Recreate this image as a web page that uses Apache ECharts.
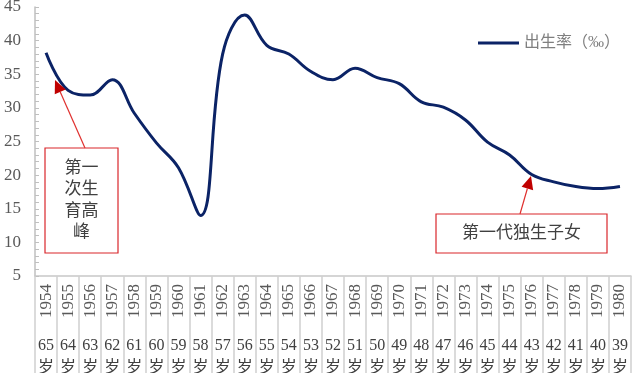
<!DOCTYPE html>
<html>
<head>
<meta charset="utf-8">
<script src="https://cdn.jsdelivr.net/npm/echarts@6/dist/echarts.min.js"></script>
<style>
html,body{margin:0;padding:0;background:#fff;}
#c{width:640px;height:373px;}
</style>
</head>
<body>
<div id="c"></div>
<script>
var years = ['1954','1955','1956','1957','1958','1959','1960','1961','1962','1963','1964','1965','1966','1967','1968','1969','1970','1971','1972','1973','1974','1975','1976','1977','1978','1979','1980'];
var ages = ['65','64','63','62','61','60','59','58','57','56','55','54','53','52','51','50','49','48','47','46','45','44','43','42','41','40','39'];
var birthRate = [38.2,32.6,31.9,34.2,29.2,24.8,21.1,14.0,38.0,43.8,39.3,38.0,35.4,34.2,35.9,34.5,33.6,30.9,30.1,28.2,24.9,23.0,20.1,19.0,18.3,18.0,18.3];
var seriesName = '出生率（‰）';
var note1 = '第一\n次生\n育高\n峰';
var note2 = '第一代独生子女';

var FONT = "'Liberation Serif','Noto Sans CJK SC',serif";
var chart = echarts.init(document.getElementById('c'));

function arrow(x1,y1,x2,y2,color){
  var dx=x2-x1, dy=y2-y1, L=Math.sqrt(dx*dx+dy*dy), ux=dx/L, uy=dy/L;
  var hl=13, hw=6;
  var bx=x2-ux*hl, by=y2-uy*hl;
  var px=-uy, py=ux;
  return [
    {type:'line', shape:{x1:x1,y1:y1,x2:bx,y2:by}, style:{stroke:color,lineWidth:1.2}, z:10},
    {type:'polygon', shape:{points:[[x2,y2],[bx+px*hw,by+py*hw],[bx-px*hw,by-py*hw]]}, style:{fill:'#c00000'}, z:10}
  ];
}

var graphics = [
  {type:'rect', shape:{x:45,y:148,width:73,height:105}, style:{fill:'#fff',stroke:'#d9262b',lineWidth:1.2}, z:9},
  {type:'text', x:81.5, y:200.5, style:{text:note1, font:"17px "+FONT, fill:'#404040', align:'center', verticalAlign:'middle', lineHeight:21.5}, z:11},
  {type:'rect', shape:{x:436,y:214,width:171,height:39}, style:{fill:'#fff',stroke:'#d9262b',lineWidth:1.2}, z:9},
  {type:'text', x:521.5, y:234, style:{text:note2, font:"17px "+FONT, fill:'#404040', align:'center', verticalAlign:'middle'}, z:11}
].concat(arrow(85,148,55,80,'#e0302e')).concat(arrow(520,214,531,176,'#e0302e'));

chart.setOption({
  animation:false,
  backgroundColor:'#fff',
  grid:{left:35,right:9,top:7,bottom:97,containLabel:false,outerBoundsMode:'none'},
  legend:{
    left:473, top:30,
    icon:'rect', itemWidth:41, itemHeight:3,
    textStyle:{fontFamily:FONT,fontSize:16,color:'#7f7f7f'},
    data:[seriesName]
  },
  xAxis:[{
    type:'category', data:years, boundaryGap:true,
    axisLine:{lineStyle:{color:'#c8c8c8',width:1.5}},
    axisTick:{show:true,interval:0,length:100,lineStyle:{color:'#d0d0d0',width:1.5}},
    axisLabel:{interval:0,rotate:90,margin:8,fontFamily:FONT,fontSize:17,color:'#595959'}
  },{
    type:'category', data:years, boundaryGap:true, position:'bottom',
    axisLine:{show:false}, axisTick:{show:false},
    axisLabel:{interval:0,margin:59,fontFamily:FONT,fontSize:16,color:'#404040',lineHeight:22,
      formatter:function(v,i){return ages[i]+'\n岁';}}
  }],
  yAxis:{
    type:'value', min:5, max:45, interval:5,
    axisLine:{show:true,lineStyle:{color:'#bfbfbf',width:1.5}},
    axisTick:{show:true,inside:true,length:4,lineStyle:{color:'#bfbfbf'}},
    minorTick:{show:true,splitNumber:5,length:4,lineStyle:{color:'#bfbfbf'}},
    splitLine:{show:false},
    axisLabel:{margin:14,fontFamily:FONT,fontSize:17,color:'#595959'}
  },
  series:[{
    name:seriesName, type:'line', data:birthRate, smooth:0.4,
    showSymbol:false, symbol:'none',
    lineStyle:{color:'#0b2366',width:3},
    itemStyle:{color:'#0b2366'}
  }],
  graphic:graphics
});
</script>
</body>
</html>
